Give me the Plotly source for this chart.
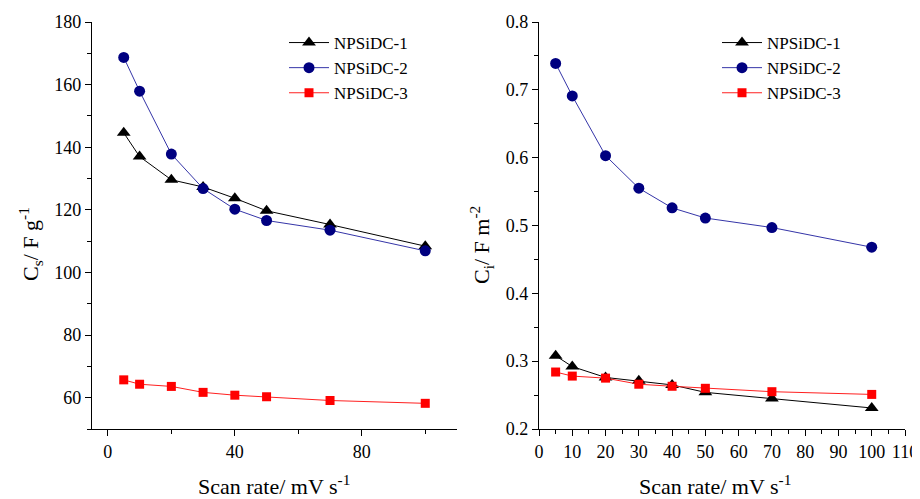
import plotly.graph_objects as go

scan_rate = [5, 10, 20, 30, 40, 50, 70, 100]

cs_npsidc1 = [144.6, 137.0, 129.6, 127.3, 123.7, 119.7, 115.3, 108.4]
cs_npsidc2 = [168.7, 157.9, 137.8, 126.8, 120.2, 116.6, 113.5, 106.9]
cs_npsidc3 = [65.7, 64.3, 63.6, 61.7, 60.8, 60.3, 59.1, 58.2]

ci_npsidc1 = [0.308, 0.292, 0.276, 0.271, 0.265, 0.254, 0.245, 0.231]
ci_npsidc2 = [0.739, 0.691, 0.603, 0.555, 0.526, 0.511, 0.497, 0.468]
ci_npsidc3 = [0.284, 0.278, 0.275, 0.266, 0.263, 0.260, 0.255, 0.251]

names = ["NPSiDC-1", "NPSiDC-2", "NPSiDC-3"]
colors = ["#000000", "#000080", "#ff0000"]
line_colors = ["#000000", "#3535a8", "#ff2020"]
symbols = ["triangle-up", "circle", "square"]
sizes = [12, 11, 9]

FONT = "Liberation Serif"
W, H = 920, 499
OFF = 8  # page body margin offsets the figure by this many pixels
T, B = 22 - OFF, 70 + OFF
PH = H - T - B  # plot area height in px


def px_x(px):
    """displayed pixel column -> paper x"""
    return (px - OFF) / W


def py(px):
    """displayed pixel row -> paper y"""
    return (H - B - (px - OFF)) / PH


fig = go.Figure()

left_data = [cs_npsidc1, cs_npsidc2, cs_npsidc3]
right_data = [ci_npsidc1, ci_npsidc2, ci_npsidc3]

for i in range(3):
    fig.add_trace(go.Scatter(
        x=scan_rate, y=left_data[i], name=names[i], mode="lines+markers",
        line=dict(color=line_colors[i], width=1),
        marker=dict(symbol=symbols[i], size=sizes[i], color=colors[i]),
        xaxis="x", yaxis="y", legend="legend"))
for i in range(3):
    fig.add_trace(go.Scatter(
        x=scan_rate, y=right_data[i], name=names[i], mode="lines+markers",
        line=dict(color=line_colors[i], width=1),
        marker=dict(symbol=symbols[i], size=sizes[i], color=colors[i]),
        xaxis="x2", yaxis="y2", legend="legend2"))

axis_common = dict(
    showgrid=False, zeroline=False, showline=True, linecolor="black", linewidth=1.3,
    ticks="outside", ticklen=6, tickwidth=1, tickcolor="black",
    tickfont=dict(family=FONT, size=18, color="black"),
    automargin=False,
)

fig.update_layout(
    width=W, height=H,
    paper_bgcolor="white", plot_bgcolor="white",
    margin=dict(l=0, r=0, t=T, b=B),
    font=dict(family=FONT, color="black"),
    xaxis=dict(domain=[px_x(92), px_x(457)], range=[-5, 110], tick0=0, dtick=40,
               minor=dict(ticks="outside", ticklen=4, dtick=20, tick0=0, tickcolor="black"),
               anchor="y", **axis_common),
    yaxis=dict(domain=[0, 1], range=[50, 180], tick0=60, dtick=20,
               minor=dict(ticks="outside", ticklen=4, dtick=10, tick0=50, tickcolor="black"),
               anchor="x", **axis_common),
    xaxis2=dict(domain=[px_x(539), px_x(905)], range=[0, 110], tick0=0, dtick=10,
                minor=dict(ticks="outside", ticklen=4, dtick=5, tick0=0, tickcolor="black"),
                anchor="y2", **axis_common),
    yaxis2=dict(domain=[0, 1], range=[0.2, 0.8], tick0=0.2, dtick=0.1, tickformat=".1f",
                minor=dict(ticks="outside", ticklen=4, dtick=0.05, tick0=0.2, tickcolor="black"),
                anchor="x2", **axis_common),
    legend=dict(x=px_x(284), y=py(25), xanchor="left", yanchor="top",
                bgcolor="rgba(0,0,0,0)", font=dict(family=FONT, size=17), itemwidth=40,
                tracegroupgap=0),
    legend2=dict(x=px_x(717), y=py(25), xanchor="left", yanchor="top",
                 bgcolor="rgba(0,0,0,0)", font=dict(family=FONT, size=17), itemwidth=40,
                 tracegroupgap=0),
)

title_font = dict(family=FONT, size=22, color="black")
fig.add_annotation(text="Scan rate/ mV s<sup>-1</sup>", xref="paper", yref="paper",
                   x=px_x(274), y=py(485), xanchor="center", yanchor="middle",
                   showarrow=False, font=title_font)
fig.add_annotation(text="Scan rate/ mV s<sup>-1</sup>", xref="paper", yref="paper",
                   x=px_x(715), y=py(485), xanchor="center", yanchor="middle",
                   showarrow=False, font=title_font)
fig.add_annotation(text="C<sub>s</sub>/ F g<sup>-1</sup>", xref="paper", yref="paper",
                   x=px_x(31), y=py(244), xanchor="center", yanchor="middle", textangle=-90,
                   showarrow=False, font=title_font)
fig.add_annotation(text="C<sub>i</sub>/ F m<sup>-2</sup>", xref="paper", yref="paper",
                   x=px_x(481), y=py(245), xanchor="center", yanchor="middle", textangle=-90,
                   showarrow=False, font=title_font)

fig.write_html("out.html")
